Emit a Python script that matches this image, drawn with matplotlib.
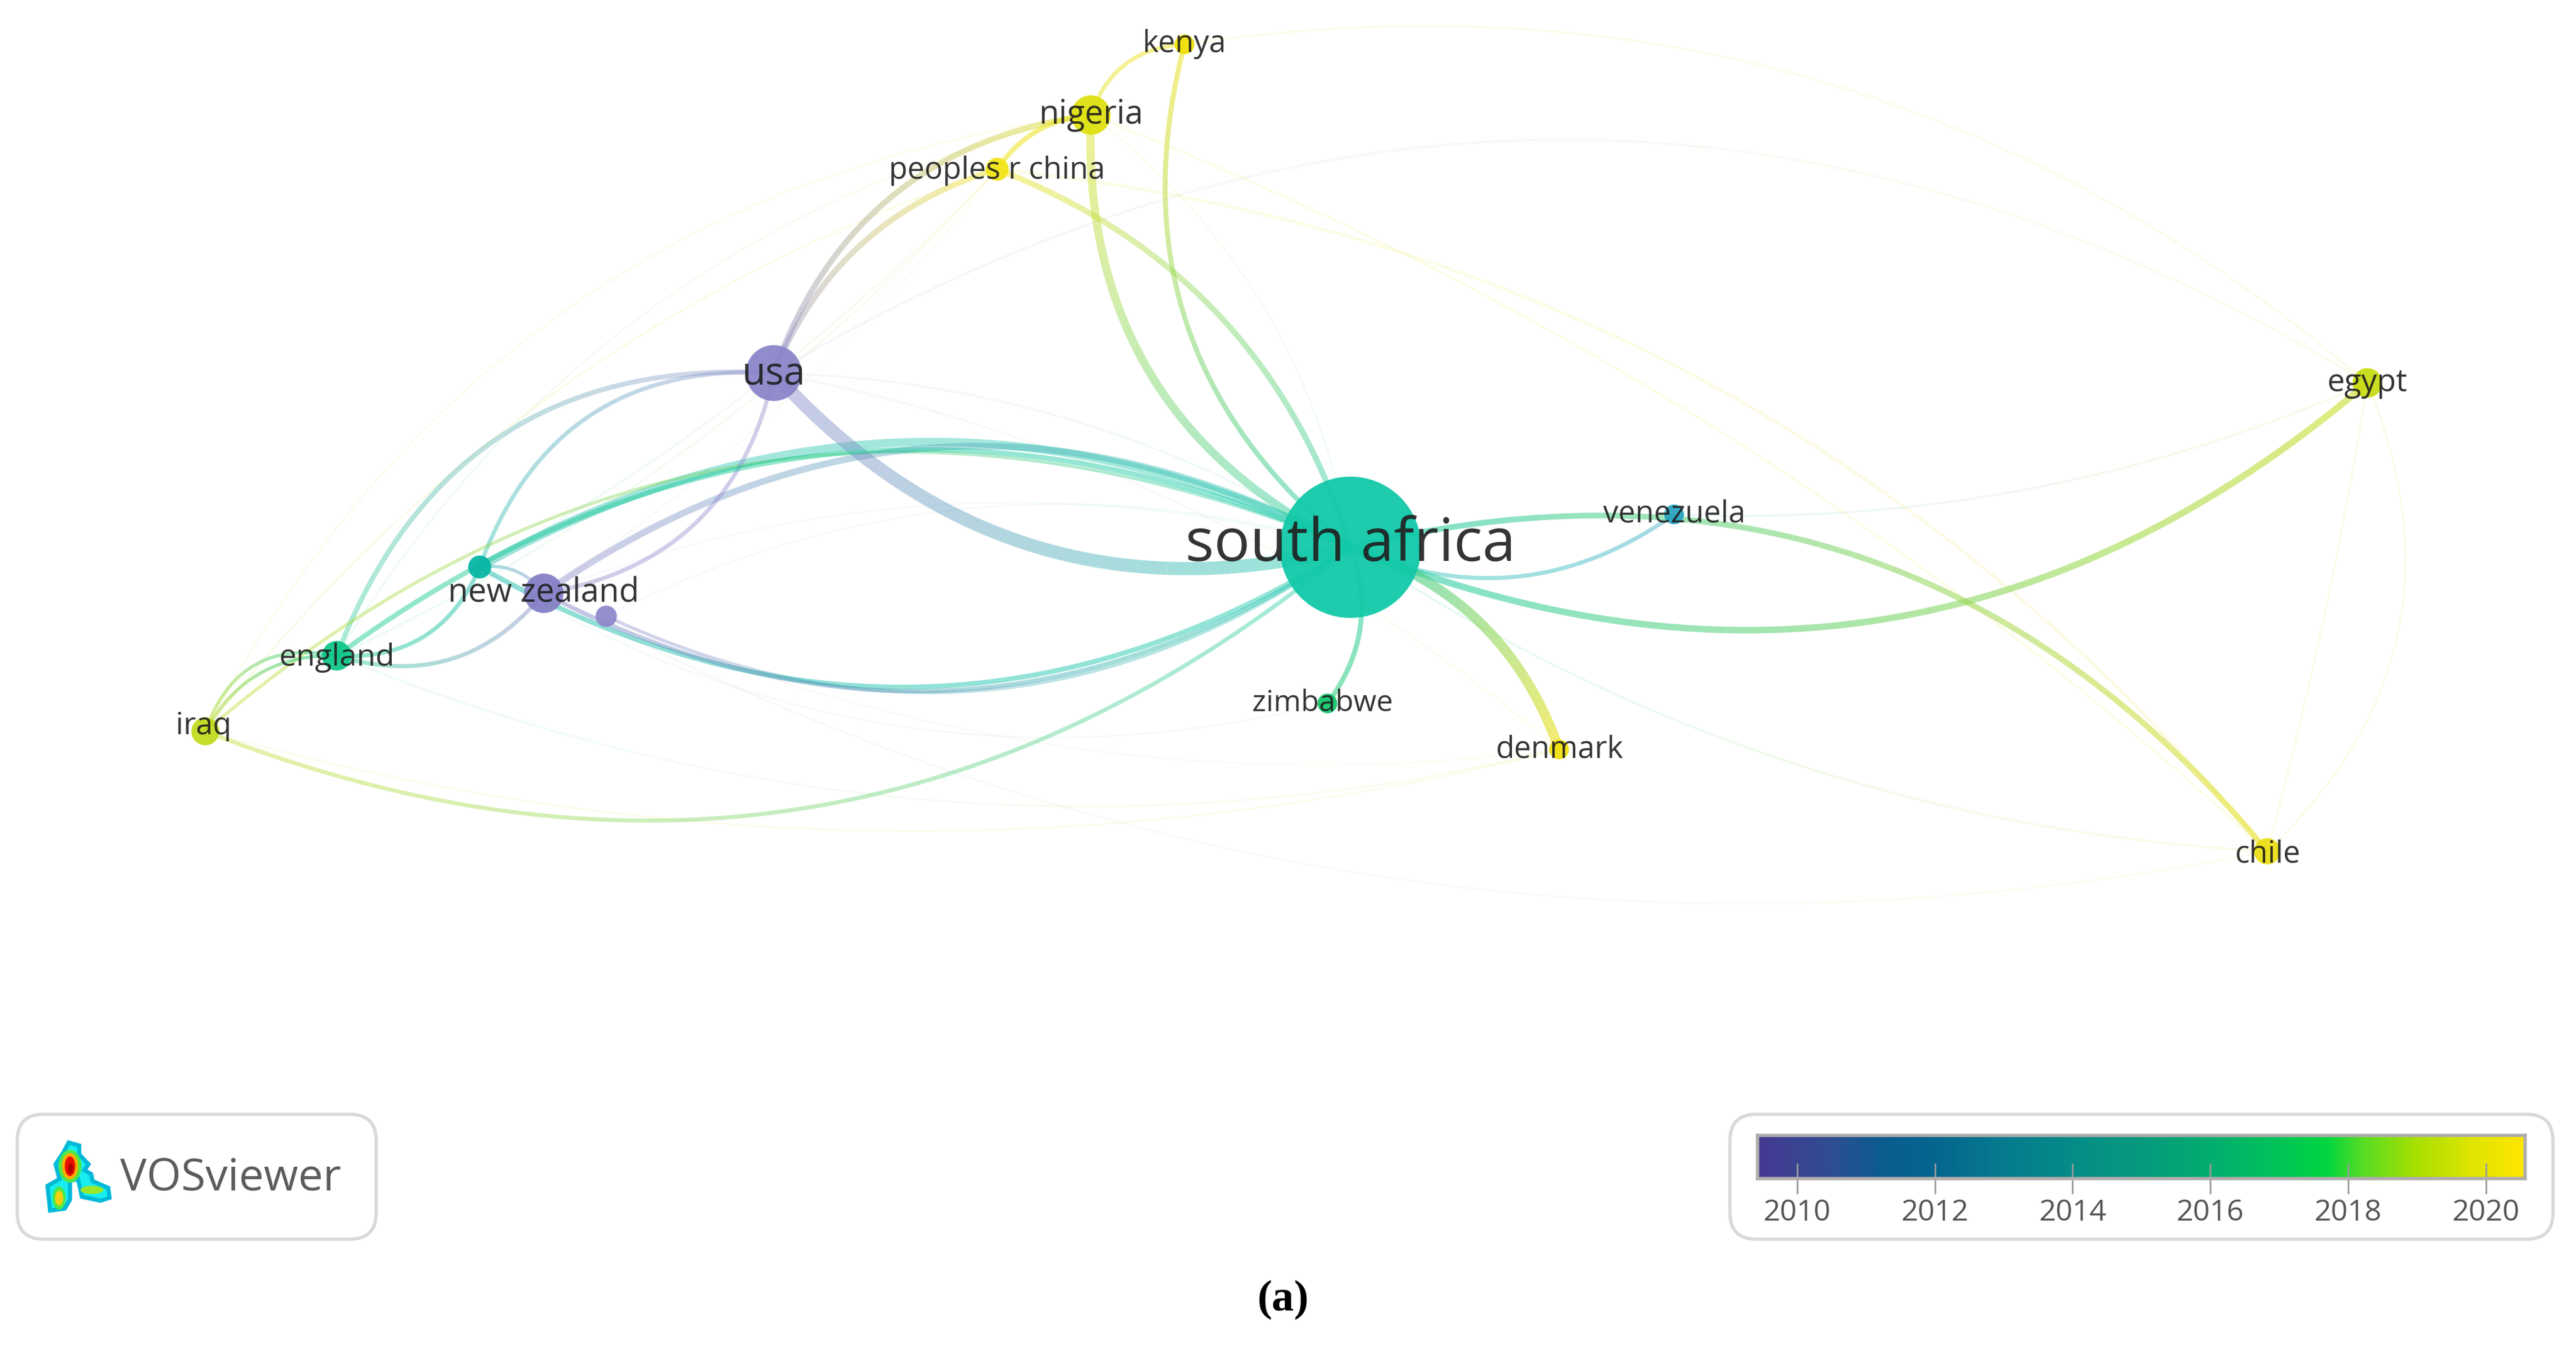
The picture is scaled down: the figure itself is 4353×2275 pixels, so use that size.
import numpy as np
import matplotlib
matplotlib.use("Agg")
import matplotlib.pyplot as plt
from matplotlib.collections import LineCollection
from matplotlib.colors import LinearSegmentedColormap, to_rgb
from matplotlib.patches import Circle, Ellipse, FancyBboxPatch, Polygon

# ---- network data (map coordinates) ----
node_names = ["south africa", "usa", "new zealand", "", "", "england", "iraq", "nigeria",
              "peoples r china", "kenya", "venezuela", "egypt", "chile", "denmark", "zimbabwe"]
node_x = [822, 471, 331, 292, 369, 205, 125, 664, 607, 721, 1019, 1441, 1380, 949, 808]
node_y = [333, 227, 361, 345, 375, 399, 445, 70, 103, 27, 313, 233, 518, 456, 428]
node_r = [43, 17, 12, 7, 6.5, 9, 8.5, 12, 7, 6, 6, 9, 8, 6, 6]
node_col = ["#12c9a8", "#8b86c9", "#8580c6", "#08b5a5", "#8f8acb", "#0fc88a", "#c2dc1e", "#dfe110",
            "#f2e41a", "#f0e008", "#2aa5c0", "#c9dc14", "#ecdf18", "#f0e010", "#14c76a"]
label_size = [73, 47, 40, 0, 0, 37.5, 37, 40, 37, 37, 37, 38, 37, 37, 36]
label_dx = [0, 0, 0, 0, 0, 0, -1, 0, 0, 0, 0, 0, 0, 0, -3]
label_dy = [-1, 1, 0, 0, 0, 1, -3, 0, 1, 0, 0, 0, 2, 0, 0]

S, U, NZ, T, P, EN, IQ, NG, CN, KE, VE, EG, CL, DK, ZW = range(15)

edge_a = [U, NG, CN, KE, NG, U, U, CN, EN, T, NZ, NZ, T, EN, IQ, IQ, IQ, IQ, EN, EN, T, T, P, NZ,
          S, S, S, S, S,
          KE, U, CN, NG, S, VE, CL, CL, NZ, EN, IQ, U, IQ, EN, CN, IQ, U, P, CN, NG, T, P, NZ, CN]
edge_b = [S, S, S, S, KE, NG, CN, NG, U, U, U, S, S, S, S, EN, EN, S, NZ, T, NZ, S, S, S,
          CL, VE, EG, DK, ZW,
          EG, EG, CL, CL, CL, EG, EG, EG, CL, DK, DK, DK, NG, NG, EN, CN, S, DK, NZ, S, ZW, S, S, T]
edge_w = [8, 5, 3.5, 3, 2.5, 3.5, 3.5, 3, 3, 2.5, 2.5, 4, 5, 3, 2, 2, 2, 2.5, 2.5, 2.5, 2, 3, 2, 2.5,
          3.5, 2.5, 4, 6, 3,
          1.5, 1.5, 2, 1.5, 1.5, 1.2, 1.2, 1.2, 1.2, 1.2, 1.2, 1.2, 1.2, 1, 1.2, 1.2, 1.2, 1, 1, 1, 1, 1, 1, 1.2]
edge_bow = [-55, -50, 38, -52, 12, 38, 22, 8, 58, 40, -33, 75, 70, 90, 108, 14, 20, -104, -22, -18, 6, -79, -66, -73,
            92, -28, -95, 22, 13,
            85, 145, 90, 40, -40, -25, -50, -4, -95, -60, -55, 35, 85, 60, 25, 45, 25, -40, 15, 30, -55, 45, 40, 15]
edge_alpha = [.45, .45, .45, .50, .45, .45, .42, .55, .36, .38, .40, .40, .38, .45, .40, .55, .50, .40, .42, .45, .42, .45, .36, .45,
              .55, .42, .55, .60, .50,
              .08, .07, .10, .09, .10, .10, .10, .10, .06, .07, .08, .07, .07, .08, .08, .10, .07, .06, .05, .08, .05, .06, .05, .08]

# ---- colour scale ----
cbar_years = [2010, 2012, 2014, 2016, 2018, 2020]
cbar_low, cbar_high = 2009.43, 2020.57
cbar_stops = [(2009.43, "#453a92"), (2010.5, "#2f4d93"), (2011.2, "#0b5c90"), (2012, "#05668f"),
              (2013, "#057b8e"), (2014, "#068c88"), (2015, "#059a7e"), (2016, "#03ad6f"),
              (2017, "#00c458"), (2017.7, "#00d640"), (2018.2, "#55dc25"), (2019, "#a8e000"),
              (2019.8, "#e0e400"), (2020.57, "#ffe600")]

plt.rcParams["font.family"] = ["Open Sans", "DejaVu Sans"]
fig = plt.figure(figsize=(43.53, 22.75), dpi=100, facecolor="white")
ax = fig.add_axes([0, 0, 1, 1])
ax.set_xlim(0, 1568)
ax.set_ylim(819, 0)
ax.axis("off")

x = np.array(node_x, float)
y = np.array(node_y, float)
t = np.linspace(0, 1, 90)[:, None]
order = np.argsort(edge_alpha)
for i in order:
    a, b = edge_a[i], edge_b[i]
    p0, p2 = np.array([x[a], y[a]]), np.array([x[b], y[b]])
    d = p2 - p0
    n = np.array([d[1], -d[0]]) / np.hypot(*d)
    c = (p0 + p2) / 2 + 2 * edge_bow[i] * n
    pts = (1 - t) ** 2 * p0 + 2 * t * (1 - t) * c + t ** 2 * p2
    segs = np.stack([pts[:-1], pts[1:]], axis=1)
    ca, cb = np.array(to_rgb(node_col[a])), np.array(to_rgb(node_col[b]))
    tm = (t[:-1] + t[1:]) / 2
    cols = np.hstack([(1 - tm) * ca + tm * cb, np.full_like(tm, edge_alpha[i])])
    ax.add_collection(LineCollection(segs, colors=cols, linewidths=edge_w[i] * 2,
                                     capstyle="butt", zorder=2))

for i in np.argsort(node_r)[::-1]:
    ax.add_patch(Circle((x[i], y[i]), node_r[i], fc=node_col[i], ec="none", alpha=.95, zorder=3))

for i, name in enumerate(node_names):
    if name:
        ax.text(x[i] + label_dx[i], y[i] + label_dy[i], name, ha="center", va="center",
                fontsize=label_size[i], color="#1e1e1e", alpha=.9, zorder=4)

# ---- VOSviewer badge ----
ax.add_patch(FancyBboxPatch((10.5 + 14, 678 + 14), 218.5 - 28, 76 - 28,
                            boxstyle="round,pad=14,rounding_size=16", fc="white", ec="#d9d9d9", lw=4, zorder=5))
logo_outline = [(41.8, 695.2), (48.2, 697), (48.2, 702.4), (53.9, 708.4), (51.4, 712), (55.5, 714.4),
                (56.3, 718.6), (65.9, 722.8), (66.7, 728.8), (61.1, 730.6), (49.8, 728.2), (48.2, 720.4),
                (47.4, 717.4), (42.6, 718.6), (42.6, 730), (39.4, 735.4), (30.5, 736.6), (28.9, 721.6),
                (36.2, 717.4), (33.8, 708.4), (38.6, 701.2)]
ax.add_patch(Polygon(logo_outline, closed=True, fc="#18eef0", ec="#00b8d8", lw=5, zorder=6))
logo = [
    ((42.6, 709.6), 14, 20, "#4ce84a"), ((36, 729), 8, 14, "#4ce84a"), ((56, 724), 14, 5, "#9be82a"),
    ((42.6, 709.6), 10, 16, "#ffb000"), ((36, 729), 5, 9, "#f2d010"),
    ((42.6, 709.6), 6.4, 12, "#e81000"), ((43, 711), 3, 6, "#b00000"),
]
for (cx, cy), w, h, col in logo:
    ax.add_patch(Ellipse((cx, cy), w, h, fc=col, ec="none", zorder=7))
ax.text(73, 717, "VOSviewer", ha="left", va="center", fontsize=54, color="#5c5c5c", zorder=6)

# ---- colour bar badge ----
ax.add_patch(FancyBboxPatch((1053 + 14, 678 + 14), 501 - 28, 76 - 28,
                            boxstyle="round,pad=14,rounding_size=16", fc="white", ec="#d9d9d9", lw=4, zorder=5))

cax = fig.add_axes([1070 / 1568, 1 - 717 / 819, 467 / 1568, 26 / 819], zorder=10)
cmap = LinearSegmentedColormap.from_list(
    "vos", [((v - cbar_low) / (cbar_high - cbar_low), c) for v, c in cbar_stops], N=512)
cax.imshow(np.linspace(0, 1, 512)[None, :], cmap=cmap, aspect="auto",
           extent=[cbar_low, cbar_high, 0, 1])
cax.set_yticks([])
cax.set_xticks(cbar_years)
cax.set_xticklabels([str(v) for v in cbar_years])
cax.tick_params(axis="x", direction="inout", length=37, width=2, color="#9a9a9a",
                labelsize=36, labelcolor="#555555", pad=6)
for sp in cax.spines.values():
    sp.set_color("#b0acac")
    sp.set_linewidth(4)

ax.text(781, 791, "(a)", ha="center", va="center", fontsize=54, family="Liberation Serif",
        fontweight="bold", color="black")

fig.savefig("out.png", dpi=100, facecolor="white")
